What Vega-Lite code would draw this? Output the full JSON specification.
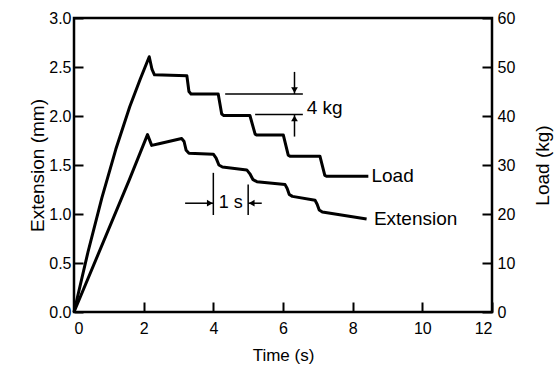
{
  "$schema": "https://vega.github.io/schema/vega-lite/v6.json",
  "width": 418,
  "height": 294,
  "autosize": "none",
  "padding": {"left": 74, "top": 18, "right": 62, "bottom": 60},
  "background": "white",
  "config": {
    "view": {"stroke": "black", "strokeWidth": 2.5},
    "font": "Liberation Sans",
    "text": {"font": "Liberation Sans", "color": "black"},
    "axis": {
      "grid": false,
      "domain": false,
      "tickColor": "black",
      "tickWidth": 2,
      "labelColor": "black",
      "titleColor": "black",
      "labelFont": "Liberation Sans",
      "titleFont": "Liberation Sans",
      "labelFontSize": 16,
      "titleFontWeight": "normal"
    }
  },
  "datasets": {
    "extension": [
      {"t": 0, "mm": 0}, {"t": 1.59, "mm": 1.35}, {"t": 2.11, "mm": 1.81},
      {"t": 2.23, "mm": 1.7}, {"t": 2.47, "mm": 1.72}, {"t": 3.09, "mm": 1.77},
      {"t": 3.16, "mm": 1.74}, {"t": 3.22, "mm": 1.65}, {"t": 3.3, "mm": 1.62},
      {"t": 4.0, "mm": 1.61}, {"t": 4.08, "mm": 1.57}, {"t": 4.16, "mm": 1.5},
      {"t": 4.26, "mm": 1.48}, {"t": 4.96, "mm": 1.45}, {"t": 5.05, "mm": 1.41},
      {"t": 5.14, "mm": 1.35}, {"t": 5.25, "mm": 1.33}, {"t": 6.06, "mm": 1.3},
      {"t": 6.12, "mm": 1.26}, {"t": 6.18, "mm": 1.2}, {"t": 6.27, "mm": 1.18},
      {"t": 6.92, "mm": 1.14}, {"t": 6.98, "mm": 1.1}, {"t": 7.04, "mm": 1.04},
      {"t": 7.13, "mm": 1.02}, {"t": 8.4, "mm": 0.95}
    ],
    "load": [
      {"t": 0, "kg": 0}, {"t": 0.4, "kg": 12.2}, {"t": 0.8, "kg": 23.3},
      {"t": 1.2, "kg": 33.2}, {"t": 1.6, "kg": 41.9}, {"t": 1.9, "kg": 47.5},
      {"t": 2.16, "kg": 52.1},
      {"t": 2.24, "kg": 49.5}, {"t": 2.31, "kg": 48.4}, {"t": 3.24, "kg": 48.2},
      {"t": 3.3, "kg": 45.0}, {"t": 3.36, "kg": 44.5}, {"t": 4.14, "kg": 44.5},
      {"t": 4.24, "kg": 40.4}, {"t": 4.3, "kg": 40.1}, {"t": 5.05, "kg": 40.1},
      {"t": 5.2, "kg": 36.3}, {"t": 5.25, "kg": 36.1}, {"t": 6.01, "kg": 36.1},
      {"t": 6.15, "kg": 32.0}, {"t": 6.2, "kg": 31.8}, {"t": 7.06, "kg": 31.8},
      {"t": 7.2, "kg": 27.9}, {"t": 7.26, "kg": 27.7}, {"t": 8.45, "kg": 27.7}
    ],
    "secRules": [
      {"t": 4.0, "t2": 4.0, "mm": 0.99, "mm2": 1.42},
      {"t": 5.0, "t2": 5.0, "mm": 0.99, "mm2": 1.3},
      {"t": 3.19, "t2": 4.0, "mm": 1.11, "mm2": 1.11},
      {"t": 5.0, "t2": 5.39, "mm": 1.11, "mm2": 1.11}
    ],
    "kgRules": [
      {"t": 4.34, "t2": 6.57, "kg": 44.5, "kg2": 44.5},
      {"t": 5.2, "t2": 6.57, "kg": 40.3, "kg2": 40.3},
      {"t": 6.33, "t2": 6.33, "kg": 49.0, "kg2": 44.5},
      {"t": 6.33, "t2": 6.33, "kg": 35.8, "kg2": 40.3}
    ],
    "mmText": [
      {"t": 8.61, "mm": 0.95, "label": "Extension"}
    ],
    "secText": [
      {"t": 4.5, "mm": 1.11, "label": "1 s"}
    ],
    "kgText": [
      {"t": 8.54, "kg": 27.8, "label": "Load"},
      {"t": 6.68, "kg": 41.6, "label": "4 kg"}
    ]
  },
  "layer": [
    {
      "layer": [
        {
          "data": {"name": "extension"},
          "mark": {"type": "line", "color": "black", "strokeWidth": 3, "strokeJoin": "round"},
          "encoding": {
            "x": {
              "field": "t", "type": "quantitative", "title": "Time (s)",
              "scale": {"domain": [0, 12], "nice": false, "zero": false},
              "axis": {
                "values": [0, 1, 2, 3, 4, 5, 6, 7, 8, 9, 10, 11, 12],
                "tickSize": {"condition": {"test": "datum.value % 2 === 0", "value": -10}, "value": -6},
                "labelExpr": "datum.value % 2 === 0 ? datum.label : ''",
                "labelPadding": 18,
                "titleFontSize": 17,
                "titlePadding": 11
              }
            },
            "y": {
              "field": "mm", "type": "quantitative", "title": "Extension (mm)",
              "scale": {"domain": [0, 3], "nice": false},
              "axis": {
                "values": [0, 0.5, 1, 1.5, 2, 2.5, 3],
                "format": ".1f",
                "tickSize": -9,
                "labelPadding": 12,
                "titleFontSize": 19,
                "titlePadding": 1
              }
            }
          }
        },
        {
          "data": {"name": "secRules"},
          "mark": {"type": "rule", "color": "black", "strokeWidth": 1.5},
          "encoding": {
            "x": {"field": "t", "type": "quantitative", "title": "Time (s)"},
            "x2": {"field": "t2"},
            "y": {"field": "mm", "type": "quantitative", "title": "Extension (mm)"},
            "y2": {"field": "mm2"}
          }
        },
        {
          "data": {"values": [{"t": 3.9, "mm": 1.11}]},
          "mark": {"type": "point", "shape": "triangle-right", "filled": true, "color": "black", "size": 45, "opacity": 1},
          "encoding": {
            "x": {"field": "t", "type": "quantitative", "title": "Time (s)"},
            "y": {"field": "mm", "type": "quantitative", "title": "Extension (mm)"}
          }
        },
        {
          "data": {"values": [{"t": 5.1, "mm": 1.11}]},
          "mark": {"type": "point", "shape": "triangle-left", "filled": true, "color": "black", "size": 45, "opacity": 1},
          "encoding": {
            "x": {"field": "t", "type": "quantitative", "title": "Time (s)"},
            "y": {"field": "mm", "type": "quantitative", "title": "Extension (mm)"}
          }
        },
        {
          "data": {"name": "mmText"},
          "mark": {"type": "text", "align": "left", "baseline": "middle", "fontSize": 19},
          "encoding": {
            "x": {"field": "t", "type": "quantitative", "title": "Time (s)"},
            "y": {"field": "mm", "type": "quantitative", "title": "Extension (mm)"},
            "text": {"field": "label"}
          }
        },
        {
          "data": {"name": "secText"},
          "mark": {"type": "text", "align": "center", "baseline": "middle", "fontSize": 18},
          "encoding": {
            "x": {"field": "t", "type": "quantitative", "title": "Time (s)"},
            "y": {"field": "mm", "type": "quantitative", "title": "Extension (mm)"},
            "text": {"field": "label"}
          }
        }
      ]
    },
    {
      "layer": [
        {
          "data": {"name": "load"},
          "mark": {"type": "line", "color": "black", "strokeWidth": 3, "strokeJoin": "round"},
          "encoding": {
            "x": {"field": "t", "type": "quantitative", "title": "Time (s)"},
            "y": {
              "field": "kg", "type": "quantitative", "title": "Load (kg)",
              "scale": {"domain": [0, 60], "nice": false},
              "axis": {
                "orient": "right",
                "values": [0, 10, 20, 30, 40, 50, 60],
                "tickSize": -10,
                "labelPadding": 15,
                "titleFontSize": 19,
                "titleAngle": 270,
                "titlePadding": 38
              }
            }
          }
        },
        {
          "data": {"name": "kgRules"},
          "mark": {"type": "rule", "color": "black", "strokeWidth": 1.5},
          "encoding": {
            "x": {"field": "t", "type": "quantitative", "title": "Time (s)"},
            "x2": {"field": "t2"},
            "y": {"field": "kg", "type": "quantitative", "title": "Load (kg)"},
            "y2": {"field": "kg2"}
          }
        },
        {
          "data": {"values": [{"t": 6.33, "kg": 45.3}]},
          "mark": {"type": "point", "shape": "triangle-down", "filled": true, "color": "black", "size": 45, "opacity": 1},
          "encoding": {
            "x": {"field": "t", "type": "quantitative", "title": "Time (s)"},
            "y": {"field": "kg", "type": "quantitative", "title": "Load (kg)"}
          }
        },
        {
          "data": {"values": [{"t": 6.33, "kg": 39.5}]},
          "mark": {"type": "point", "shape": "triangle-up", "filled": true, "color": "black", "size": 45, "opacity": 1},
          "encoding": {
            "x": {"field": "t", "type": "quantitative", "title": "Time (s)"},
            "y": {"field": "kg", "type": "quantitative", "title": "Load (kg)"}
          }
        },
        {
          "data": {"name": "kgText"},
          "mark": {"type": "text", "align": "left", "baseline": "middle", "fontSize": 19},
          "encoding": {
            "x": {"field": "t", "type": "quantitative", "title": "Time (s)"},
            "y": {"field": "kg", "type": "quantitative", "title": "Load (kg)"},
            "text": {"field": "label"}
          }
        }
      ]
    }
  ],
  "resolve": {"scale": {"y": "independent"}}
}
